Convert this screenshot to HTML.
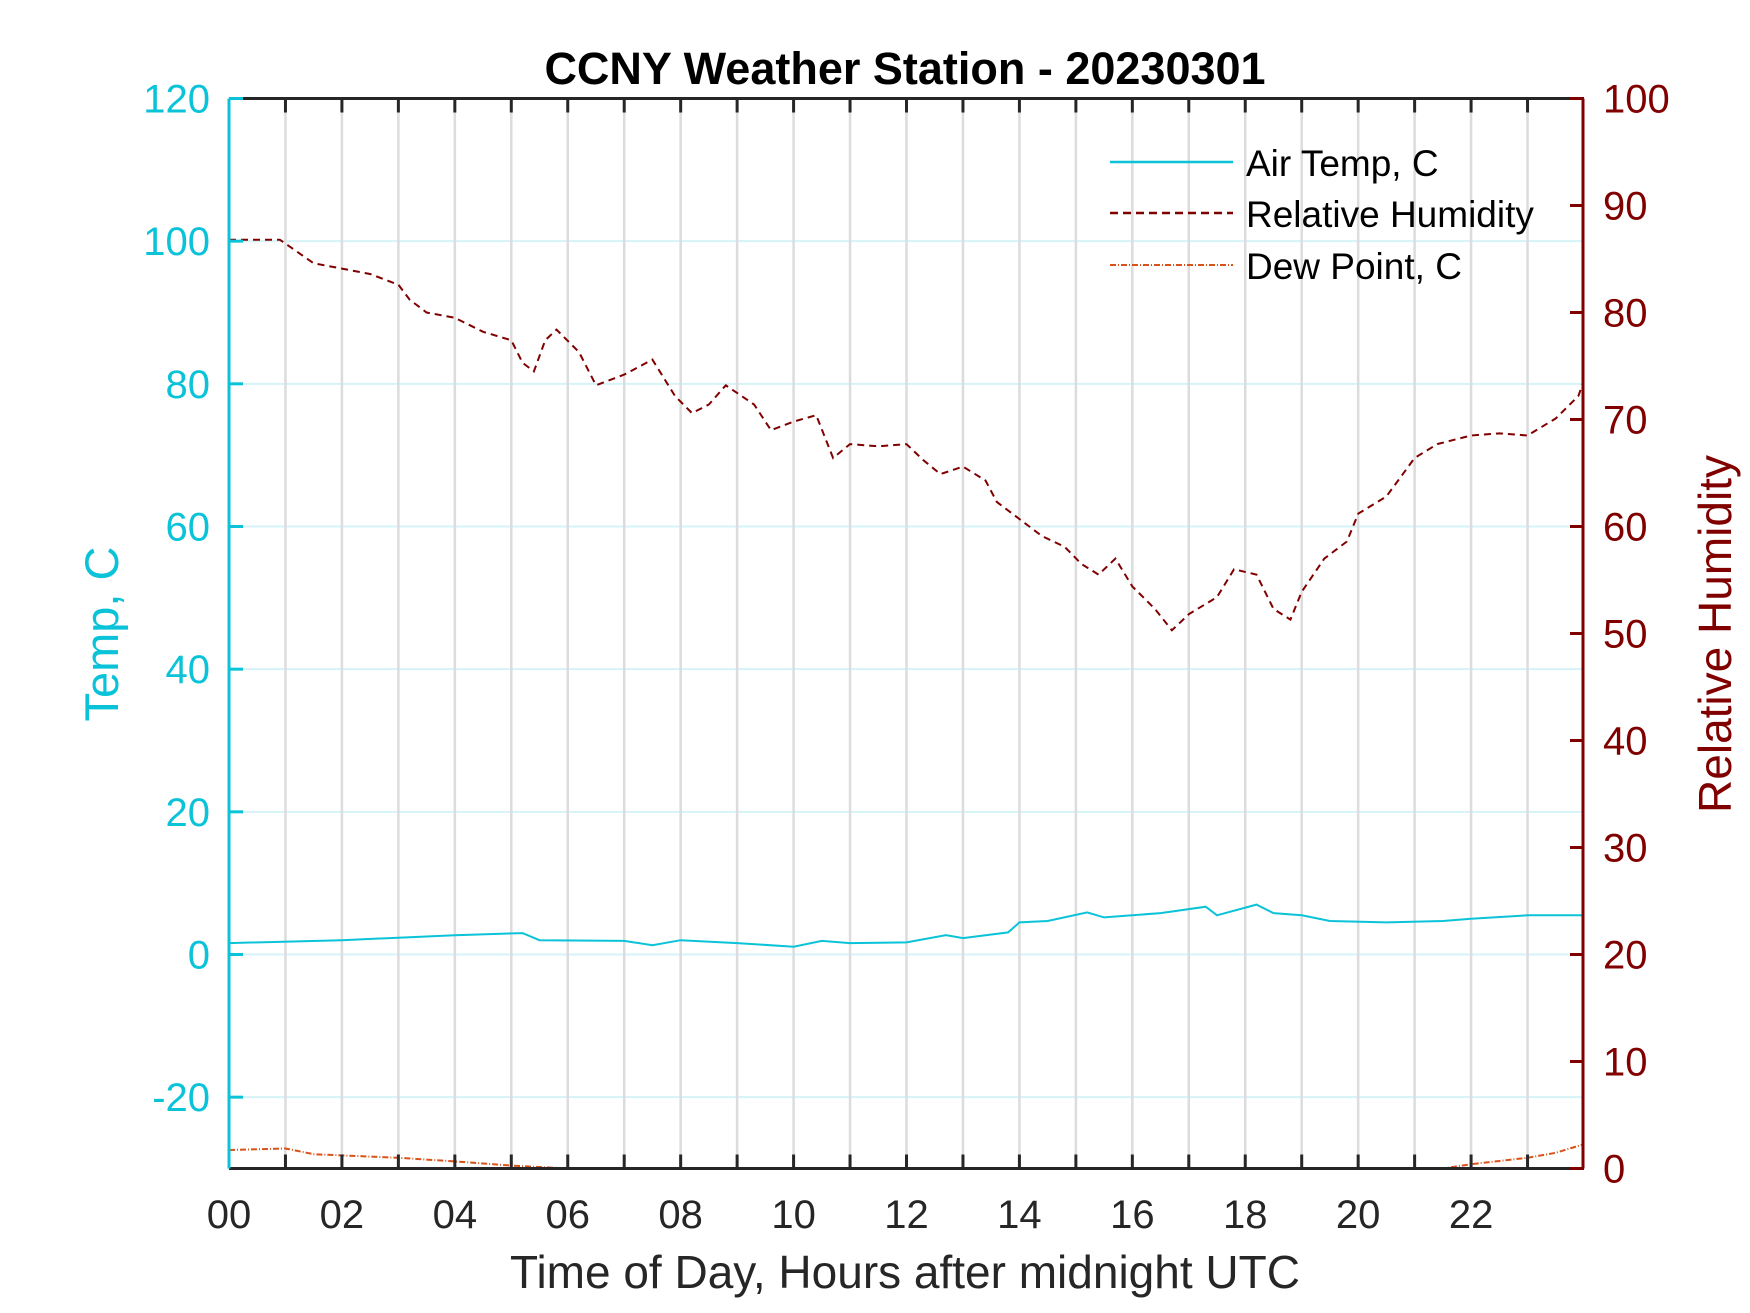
<!DOCTYPE html>
<html><head><meta charset="utf-8"><style>
html,body{margin:0;padding:0;background:#fff}
svg{display:block;font-family:"Liberation Sans",Arial,sans-serif}
</style></head><body>
<svg id="chart" width="1750" height="1313" viewBox="0 0 1750 1313" xmlns="http://www.w3.org/2000/svg">
<rect width="1750" height="1313" fill="#fff"/>
<g id="grid"></g>
<g id="series"></g>
<g id="axes"></g>
<text x="905" y="84" text-anchor="middle" font-size="45" font-weight="bold" fill="#000">CCNY Weather Station - 20230301</text>
<text x="905" y="1288" text-anchor="middle" font-size="46" fill="#262626">Time of Day, Hours after midnight UTC</text>
<text x="0" y="0" transform="translate(118,634) rotate(-90)" text-anchor="middle" font-size="47" fill="#0bc3d8">Temp, C</text>
<text x="0" y="0" transform="translate(1731,634) rotate(-90)" text-anchor="middle" font-size="46" fill="#800000">Relative Humidity</text>
<g>
<line x1="1110" y1="162" x2="1233" y2="162" stroke="#0bc3d8" stroke-width="2.5"/>
<text x="1246" y="176" font-size="37" fill="#000">Air Temp, C</text>
<line x1="1110" y1="213" x2="1233" y2="213" stroke="#800000" stroke-width="2.5" stroke-dasharray="8,5"/>
<text x="1246" y="227" font-size="37" fill="#000">Relative Humidity</text>
<line x1="1110" y1="265" x2="1233" y2="265" stroke="#d95319" stroke-width="2" stroke-dasharray="6,2,1,2"/>
<text x="1246" y="279" font-size="37" fill="#000">Dew Point, C</text>
</g>
</svg>
<script>
const hours=[0,2,4,6,8,10,12,14,16,18,20,22];
const hourLabels=["00","02","04","06","08","10","12","14","16","18","20","22"];
const tempTicks=[-20,0,20,40,60,80,100,120];
const rhTicks=[0,10,20,30,40,50,60,70,80,90,100];
const rhT=[0,0.9,1.5,2,2.5,3,3.2,3.5,4,4.5,5,5.2,5.4,5.6,5.8,6.2,6.5,7,7.5,7.9,8.2,8.5,8.8,9.3,9.6,10,10.4,10.7,11,11.5,12,12.3,12.6,13,13.4,13.6,14,14.4,14.8,15.1,15.4,15.7,16,16.4,16.7,17,17.5,17.8,18.2,18.5,18.8,19,19.4,19.8,20,20.5,21,21.4,22,22.5,23,23.5,23.9,24];
const rhV=[86.8,86.8,84.6,84.1,83.6,82.6,81.2,80,79.5,78.2,77.4,75.3,74.5,77.4,78.4,76.3,73.2,74.2,75.6,72.2,70.6,71.4,73.2,71.4,69,69.8,70.4,66.4,67.7,67.5,67.7,66.2,64.9,65.6,64.3,62.3,60.7,59.1,58.1,56.5,55.5,57,54.4,52.3,50.3,51.8,53.4,56,55.5,52.3,51.3,53.9,57,58.6,61.2,62.8,66.4,67.7,68.5,68.7,68.5,70.1,72.2,73.7];
const tT=[0,2,4,5.2,5.5,7,7.5,8,9,10,10.5,11,12,12.7,13,13.8,14,14.5,15.2,15.5,16.5,17.3,17.5,18.2,18.5,19,19.5,20.5,21.5,22,23,24];
const tV=[1.6,2.0,2.7,3.0,2.0,1.9,1.3,2.0,1.6,1.1,1.9,1.6,1.7,2.7,2.3,3.1,4.5,4.7,5.9,5.2,5.8,6.7,5.5,7.0,5.8,5.5,4.7,4.5,4.7,5.0,5.5,5.5];
const dT=[0,1,1.5,3,4,5,6,7,12,18,21.3,21.5,22,23,23.5,24];
const dV=[-27.4,-27.2,-28,-28.5,-29,-29.6,-30,-32,-33,-33,-32,-30,-29.4,-28.5,-27.8,-26.6];

const X0=229,X1=1584,Y0=98.5,Y1=1168.5;
const x=h=>X0+(h/24)*(X1-X0);
const yT=v=>Y1-(v+30)/150*(Y1-Y0);
const yR=v=>Y1-v/100*(Y1-Y0);
const NS="http://www.w3.org/2000/svg";
function mk(tag,attrs,parent){const e=document.createElementNS(NS,tag);for(const k in attrs)e.setAttribute(k,attrs[k]);parent.appendChild(e);return e;}
const grid=document.getElementById('grid'),axes=document.getElementById('axes'),series=document.getElementById('series');
for(const v of tempTicks){const l=mk('line',{x1:X0,x2:X1,y1:yT(v),y2:yT(v),stroke:'#d6f3f7','stroke-width':2},grid);

}
for(let h=1;h<24;h++){const l=mk('line',{x1:x(h),x2:x(h),y1:Y0,y2:Y1,stroke:'#dcdcdc','stroke-width':2.5},grid);

}
const defs=mk('defs',{},series);const cp=mk('clipPath',{id:'clip'},defs);mk('rect',{x:X0,y:Y0,width:X1-X0,height:Y1-Y0},cp);
function path(ts,vs,yf){return ts.map((t,i)=>(i?'L':'M')+x(t).toFixed(1)+','+yf(vs[i]).toFixed(1)).join('');}
const pd=mk('path',{d:path(dT,dV,yT),fill:'none',stroke:'#d95319','stroke-width':2,'stroke-dasharray':'6,2,1,2','clip-path':'url(#clip)'},series);


const pt=mk('path',{d:path(tT,tV,yT),fill:'none',stroke:'#0bc3d8','stroke-width':2,'clip-path':'url(#clip)'},series);


const pr=mk('path',{d:path(rhT,rhV,yR),fill:'none',stroke:'#800000','stroke-width':2,'stroke-dasharray':'7,5','clip-path':'url(#clip)'},series);


mk('line',{x1:X0,x2:X1,y1:Y0,y2:Y0,stroke:'#262626','stroke-width':3},axes);
mk('line',{x1:X0,x2:X1,y1:Y1,y2:Y1,stroke:'#262626','stroke-width':3},axes);
mk('line',{x1:X0,x2:X0,y1:Y0,y2:Y1,stroke:'#0bc3d8','stroke-width':3},axes);
mk('line',{x1:X1-1,x2:X1-1,y1:Y0,y2:Y1,stroke:'#800000','stroke-width':3},axes);
for(let h=1;h<24;h++){mk('line',{x1:x(h),x2:x(h),y1:Y0,y2:Y0+14,stroke:'#262626','stroke-width':3},axes);mk('line',{x1:x(h),x2:x(h),y1:Y1,y2:Y1-14,stroke:'#262626','stroke-width':3},axes);}
hours.forEach((h,i)=>{const t=mk('text',{x:x(h),y:1228,'text-anchor':'middle','font-size':40,fill:'#262626'},axes);t.textContent=hourLabels[i];

});
tempTicks.forEach(v=>{mk('line',{x1:X0,x2:X0+14,y1:yT(v),y2:yT(v),stroke:'#0bc3d8','stroke-width':3},axes);
const t=mk('text',{x:210,y:yT(v)+14,'text-anchor':'end','font-size':40,fill:'#0bc3d8'},axes);t.textContent=v;

});
rhTicks.forEach(v=>{mk('line',{x1:X1-14,x2:X1,y1:yR(v),y2:yR(v),stroke:'#800000','stroke-width':3},axes);
const t=mk('text',{x:1603,y:yR(v)+14,'text-anchor':'start','font-size':40,fill:'#800000'},axes);t.textContent=v;

});
</script>
</body></html>
